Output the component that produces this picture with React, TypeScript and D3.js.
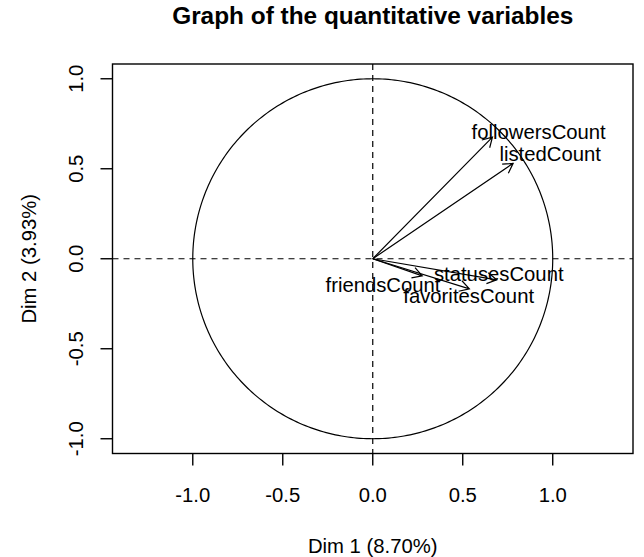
import React from 'react';
import * as d3 from 'd3';

// ---- data ----
const variables = ['followersCount', 'listedCount', 'statusesCount', 'favoritesCount', 'friendsCount'];
const dim1 = [0.665, 0.78, 0.689, 0.537, 0.275];
const dim2 = [0.676, 0.53, -0.117, -0.167, -0.095];
// label anchor (text centre / baseline) in data units, as placed by the plot
const labelDim1 = [0.922, 0.986, 0.7, 0.533, 0.057];
const labelDim2 = [0.665, 0.541, -0.126, -0.246, -0.187];
const tickValues = [-1, -0.5, 0, 0.5, 1];
const tickLabels = ['-1.0', '-0.5', '0.0', '0.5', '1.0'];
const titleText = 'Graph of the quantitative variables';
const xTitle = 'Dim 1 (8.70%)';
const yTitle = 'Dim 2 (3.93%)';

const W = 644;
const H = 557;
const plot = { left: 112.5, right: 633, top: 64, bottom: 453.5 };
const FONT = '"Liberation Sans", Arial, Helvetica, sans-serif';
const FS = 20.3;
const TICK = 12;
const HEAD = 11;

export default function App() {
  const x = d3.scaleLinear().domain([-1.446, 1.446]).range([plot.left, plot.right]);
  const y = d3.scaleLinear().domain([-1.082, 1.082]).range([plot.bottom, plot.top]);

  const circle = d3.line<number>()
    .x((t) => x(Math.cos(t)))
    .y((t) => y(Math.sin(t)))(d3.range(0, 361).map((d) => (d * Math.PI) / 180));

  const arrows = variables.map((name, i) => {
    const x0 = x(0), y0 = y(0);
    const x1 = x(dim1[i]), y1 = y(dim2[i]);
    const ang = Math.atan2(y1 - y0, x1 - x0);
    const p = d3.path();
    p.moveTo(x0, y0);
    p.lineTo(x1, y1);
    const a1 = ang + Math.PI - Math.PI / 6;
    const a2 = ang + Math.PI + Math.PI / 6;
    p.moveTo(x1 + HEAD * Math.cos(a1), y1 + HEAD * Math.sin(a1));
    p.lineTo(x1, y1);
    p.lineTo(x1 + HEAD * Math.cos(a2), y1 + HEAD * Math.sin(a2));
    return { name, d: p.toString(), lx: x(labelDim1[i]), ly: y(labelDim2[i]) };
  });

  const cx = (plot.left + plot.right) / 2;
  const cy = (plot.top + plot.bottom) / 2;

  return (
    <svg
      width={W}
      height={H}
      style={{ position: 'absolute', left: 0, top: 0, background: '#fff' }}
      fontFamily={FONT}
    >
      <rect x={0} y={0} width={W} height={H} fill="#fff" />
      <text x={cx} y={24} textAnchor="middle" fontSize={24.4} fontWeight="bold" fill="#000">
        {titleText}
      </text>

      {/* dashed axes */}
      <line x1={plot.left} x2={plot.right} y1={y(0)} y2={y(0)} stroke="#000" strokeWidth={1.2} strokeDasharray="6,5" />
      <line x1={x(0)} x2={x(0)} y1={plot.top} y2={plot.bottom} stroke="#000" strokeWidth={1.2} strokeDasharray="6,5" />

      {/* circle */}
      <path d={circle || ''} fill="none" stroke="#000" strokeWidth={1.2} />

      {/* arrows */}
      {arrows.map((a) => (
        <path key={a.name} d={a.d} fill="none" stroke="#000" strokeWidth={1.2} />
      ))}
      {arrows.map((a) => (
        <text key={a.name + 't'} x={a.lx} y={a.ly} textAnchor="middle" fontSize={FS} fill="#000">
          {a.name}
        </text>
      ))}

      {/* box */}
      <rect
        x={plot.left}
        y={plot.top}
        width={plot.right - plot.left}
        height={plot.bottom - plot.top}
        fill="none"
        stroke="#000"
        strokeWidth={1.4}
      />

      {/* x axis */}
      {tickValues.map((v, i) => (
        <g key={'xt' + i}>
          <line x1={x(v)} x2={x(v)} y1={plot.bottom} y2={plot.bottom + TICK} stroke="#000" strokeWidth={1.4} />
          <text x={x(v)} y={502} textAnchor="middle" fontSize={FS} fill="#000">
            {tickLabels[i]}
          </text>
        </g>
      ))}
      <text x={cx} y={553} textAnchor="middle" fontSize={FS} fill="#000">
        {xTitle}
      </text>

      {/* y axis */}
      {tickValues.map((v, i) => (
        <g key={'yt' + i}>
          <line x1={plot.left - TICK} x2={plot.left} y1={y(v)} y2={y(v)} stroke="#000" strokeWidth={1.4} />
          <text
            transform={`translate(83,${y(v)}) rotate(-90)`}
            textAnchor="middle"
            fontSize={FS}
            fill="#000"
          >
            {tickLabels[i]}
          </text>
        </g>
      ))}
      <text transform={`translate(35.5,${cy}) rotate(-90)`} textAnchor="middle" fontSize={FS} fill="#000">
        {yTitle}
      </text>
    </svg>
  );
}
